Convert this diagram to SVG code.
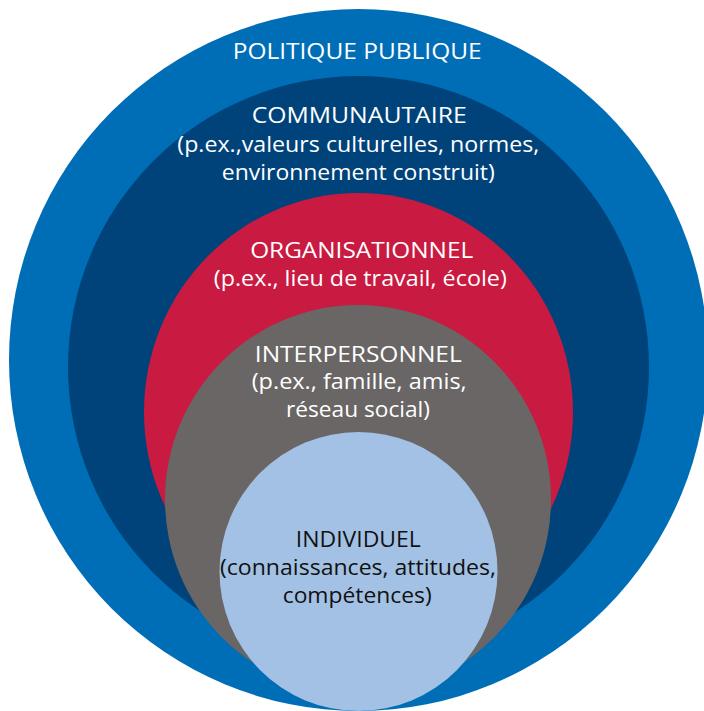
<svg xmlns="http://www.w3.org/2000/svg" width="704" height="711" viewBox="0 0 704 711">
  <style>
    .t { font-family: "Open Sans", "Liberation Sans", sans-serif; font-size: 22px; text-anchor: middle; }
    .w { fill: #ffffff; }
    .k { fill: #111111; }
  </style>
  <rect x="0" y="0" width="704" height="711" fill="#ffffff"/>
  <g id="politique-publique">
    <ellipse cx="358.5" cy="360" rx="349.5" ry="351" fill="#006EB6"/>
    <text class="t w" x="357.2" y="59.3" textLength="249" lengthAdjust="spacingAndGlyphs">POLITIQUE PUBLIQUE</text>
  </g>
  <g id="communautaire">
    <ellipse cx="358.5" cy="367" rx="290.5" ry="291" fill="#00437A"/>
    <text class="t w" x="359.2" y="123.3" textLength="215" lengthAdjust="spacingAndGlyphs">COMMUNAUTAIRE</text>
    <text class="t w" x="358.3" y="152" textLength="362" lengthAdjust="spacingAndGlyphs">(p.ex.,valeurs culturelles, normes,</text>
    <text class="t w" x="358.3" y="180" textLength="273" lengthAdjust="spacingAndGlyphs">environnement construit)</text>
  </g>
  <g id="organisationnel">
    <ellipse cx="358.5" cy="412" rx="214.5" ry="219" fill="#C91A41"/>
    <text class="t w" x="361.7" y="257.7" textLength="223" lengthAdjust="spacingAndGlyphs">ORGANISATIONNEL</text>
    <text class="t w" x="360.3" y="286" textLength="293" lengthAdjust="spacingAndGlyphs">(p.ex., lieu de travail, école)</text>
  </g>
  <g id="interpersonnel">
    <ellipse cx="358" cy="499.5" rx="193" ry="194.5" fill="#696665"/>
    <text class="t w" x="358.3" y="361.7" textLength="207" lengthAdjust="spacingAndGlyphs">INTERPERSONNEL</text>
    <text class="t w" x="359.2" y="389" textLength="215" lengthAdjust="spacingAndGlyphs">(p.ex., famille, amis,</text>
    <text class="t w" x="358" y="416.5" textLength="144" lengthAdjust="spacingAndGlyphs">réseau social)</text>
  </g>
  <g id="individuel">
    <ellipse cx="358.5" cy="571.5" rx="139" ry="139.5" fill="#A3C1E4"/>
    <text class="t k" x="358.3" y="546.7" textLength="125" lengthAdjust="spacingAndGlyphs">INDIVIDUEL</text>
    <text class="t k" x="358" y="575" textLength="276" lengthAdjust="spacingAndGlyphs">(connaissances, attitudes,</text>
    <text class="t k" x="357.2" y="603" textLength="149" lengthAdjust="spacingAndGlyphs">compétences)</text>
  </g>
  <g id="connectors"/>
</svg>
